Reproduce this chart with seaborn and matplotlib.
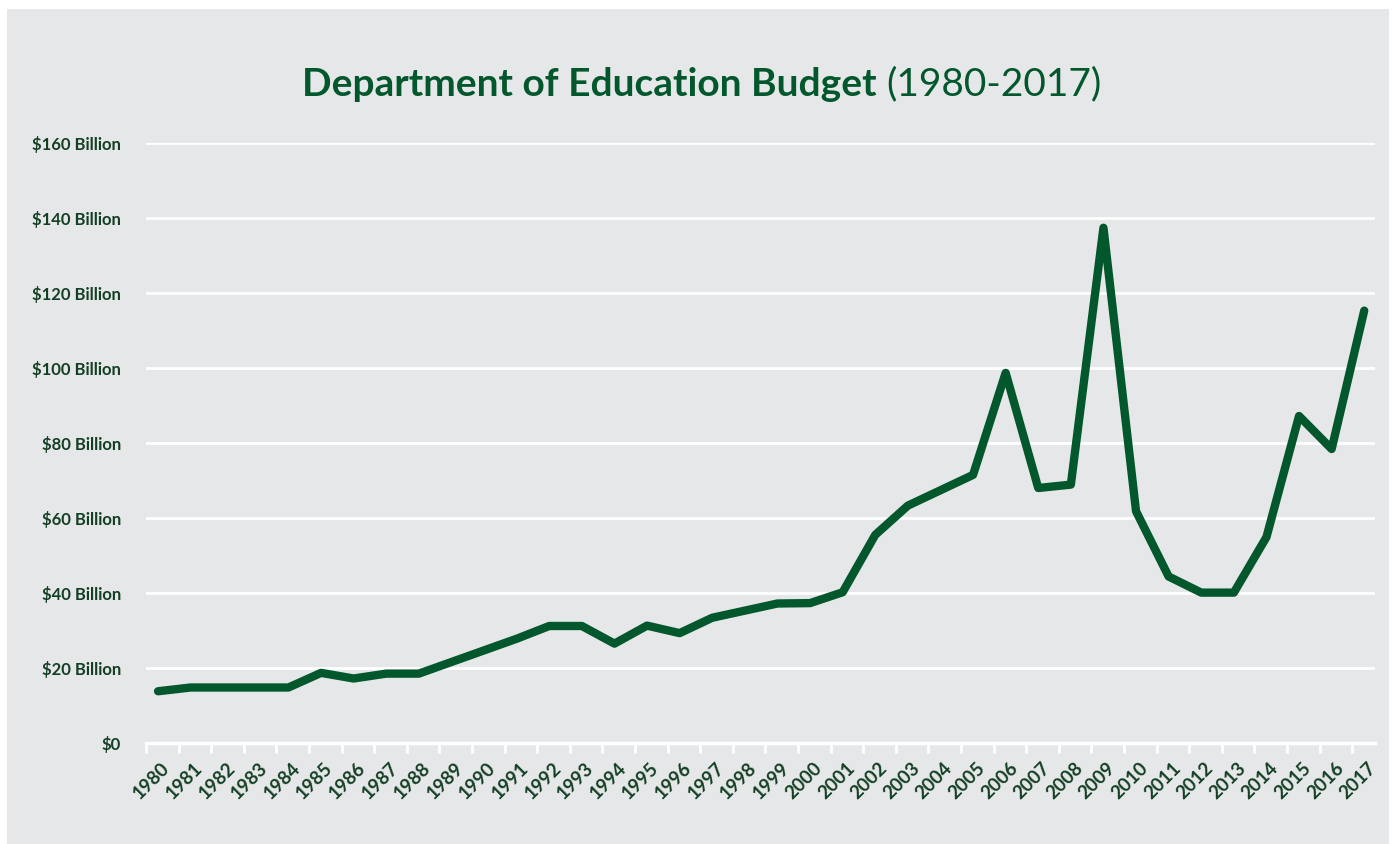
import numpy as np
import pandas as pd
import matplotlib
matplotlib.use("Agg")
import matplotlib.pyplot as plt
import matplotlib.transforms as mtransforms
from matplotlib.patches import Rectangle
import seaborn as sns

# datos (miles de millones de dolares)
anios = list(range(1980, 2018))
presupuesto = [13.8, 14.8, 14.8, 14.8, 14.8, 18.7, 17.2, 18.5, 18.5, 21.6,
               24.7, 27.8, 31.2, 31.2, 26.5, 31.3, 29.3, 33.4, 35.3, 37.2,
               37.3, 40.2, 55.5, 63.3, 67.4, 71.5, 98.7, 68.0, 68.9, 137.4,
               61.8, 44.4, 40.1, 40.1, 54.9, 87.2, 78.4, 115.3]
ytick_vals = [0, 20, 40, 60, 80, 100, 120, 140, 160]
ytick_labels = ["$0"] + [f"${v} Billion" for v in ytick_vals[1:]]

VERDE = "#03572c"
TEXTO = "#143f24"
FONDO = "#e6e7e8"

sns.set_theme(style="white")
plt.rcParams["font.family"] = ["Lato", "DejaVu Sans"]

df = pd.DataFrame({"pos": np.arange(len(anios)), "valor": presupuesto})

fig = plt.figure(figsize=(13.96, 8.44), dpi=100, facecolor="white")
W, H = 1396, 844
fondo = Rectangle((7 / W, 0), (1389 - 7) / W, 1 - 9 / H,
                  transform=fig.transFigure, facecolor=FONDO,
                  edgecolor="none", zorder=-10)
fig.patches.append(fondo)

ax = fig.add_axes([146 / W, 1 - 743 / H, (1375 - 146) / W, (743 - 143) / H])
ax.set_zorder(2)
ax.patch.set_alpha(0)

sns.lineplot(data=df, x="pos", y="valor", color=VERDE, linewidth=6,
             solid_capstyle="round", solid_joinstyle="round", ax=ax, zorder=3)

ax.set_xlim(-0.37, 37.33)
ax.set_ylim(0, 160)
ax.set_yticks(ytick_vals)
ax.set_yticklabels(ytick_labels, fontsize=12, fontweight="bold", color=TEXTO)
ax.yaxis.grid(True, color="white", linewidth=2)
ax.set_axisbelow(True)
ax.tick_params(axis="y", length=0, pad=18)

# marcas de categoria entre puntos, etiquetas centradas en los puntos
ax.set_xticks(np.arange(len(anios)) - 0.37, minor=True)
ax.set_xticks(np.arange(len(anios)))
ax.set_xticklabels([str(a) for a in anios], rotation=45, ha="right",
                   va="center", rotation_mode="anchor", fontsize=13.5,
                   fontweight="bold", color=TEXTO)
ax.tick_params(axis="x", which="major", length=0, pad=16)
ax.tick_params(axis="x", which="minor", length=7, width=2, color="white",
               bottom=True, direction="out")
offset = mtransforms.ScaledTranslation(9 / 100, 0, fig.dpi_scale_trans)
for lbl in ax.get_xticklabels():
    lbl.set_transform(lbl.get_transform() + offset)

for s in ["top", "right", "left"]:
    ax.spines[s].set_visible(False)
ax.spines["bottom"].set_color("white")
ax.spines["bottom"].set_linewidth(2.5)
ax.set_xlabel("")
ax.set_ylabel("")

t1 = fig.text(0, 0, "Department of Education Budget ", fontsize=28,
              fontweight="bold", color=VERDE, va="center")
t2 = fig.text(0, 0, "(1980-2017)", fontsize=28, color=VERDE, va="center")
fig.canvas.draw()
r = fig.canvas.get_renderer()
w1 = t1.get_window_extent(r).width
w2 = t2.get_window_extent(r).width
x0 = (W - (w1 + w2)) / 2 + 4
yc = 1 - 84 / H
t1.set_position((x0 / W, yc))
t2.set_position(((x0 + w1) / W, yc))

fig.savefig("out.png", dpi=100, facecolor="white")
